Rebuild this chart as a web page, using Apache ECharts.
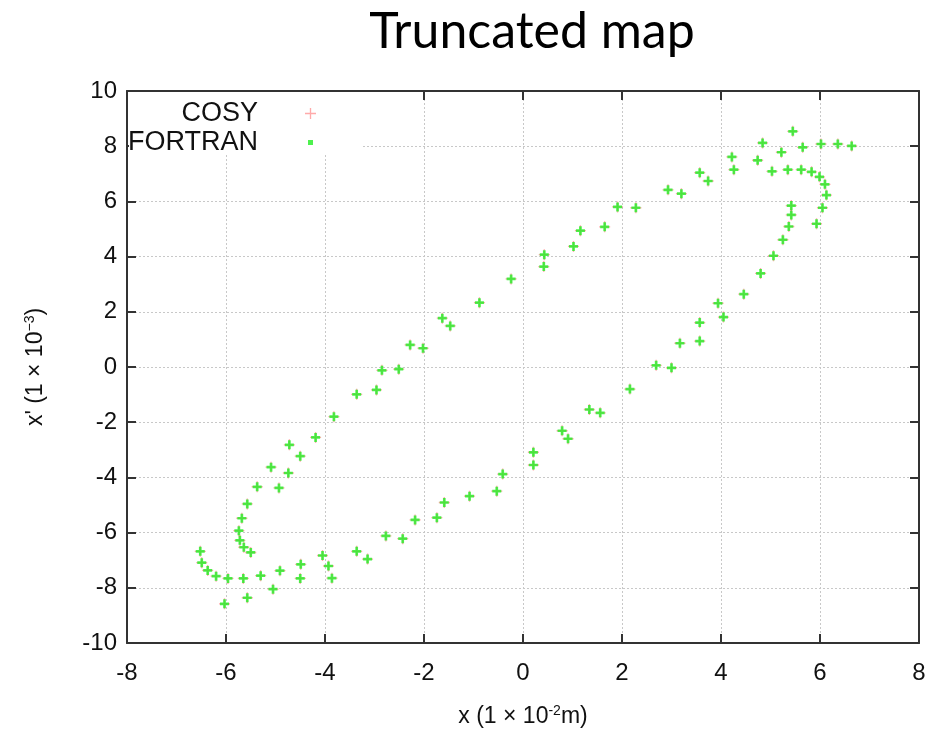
<!DOCTYPE html>
<html>
<head>
<meta charset="utf-8">
<script src="https://cdn.jsdelivr.net/npm/echarts@6/dist/echarts.min.js"></script>
<style>html,body{margin:0;padding:0;background:#fff;}#c{width:930px;height:734px;}</style>
</head>
<body>
<div id="c"></div>
<script>
// Phase-space points (x in 1e-2 m, x' in 1e-3); COSY and FORTRAN coincide
var pointX = [-2.85,-2.51,-2.28,-2.02,-1.63,-1.47,-0.88,-0.24,0.43,0.42,1.02,1.16,1.65,1.91,2.28,2.93,3.20,3.57,3.74,4.22,4.26,4.74,4.84,5.03,5.22,5.35,5.45,5.62,5.65,5.83,5.99,6.02,6.10,6.13,6.05,5.42,5.42,5.37,5.93,6.36,6.64,5.25,5.06,4.80,4.46,3.94,4.05,3.57,3.57,3.17,2.69,3.00,-3.36,-2.96,-3.82,-4.19,-4.72,-4.50,-5.09,-4.74,-5.37,-4.93,-5.57,-5.68,-5.74,-5.72,-5.64,-5.50,-6.52,-6.49,-6.37,-6.20,-5.96,-5.65,-5.30,-4.91,-4.49,-4.50,-5.05,-5.57,-6.03,-4.05,-3.93,-3.86,-3.36,-3.14,-2.77,-2.43,-2.18,-1.74,-1.59,-1.08,-0.53,-0.41,0.21,0.21,0.79,0.91,1.34,1.56,2.16];
var pointY = [-0.12,-0.08,0.80,0.68,1.77,1.49,2.33,3.19,4.07,3.64,4.37,4.94,5.08,5.80,5.77,6.42,6.28,7.04,6.74,7.61,7.15,7.49,8.12,7.09,7.78,7.15,8.54,7.15,7.96,7.07,6.89,8.08,6.62,6.23,5.77,5.85,5.51,5.09,5.19,8.08,8.01,4.61,4.03,3.39,2.64,2.31,1.81,1.61,0.94,0.86,0.06,-0.03,-0.99,-0.83,-1.80,-2.55,-2.82,-3.23,-3.63,-3.84,-4.34,-4.38,-4.96,-5.48,-5.93,-6.28,-6.53,-6.72,-6.68,-7.09,-7.37,-7.58,-7.66,-7.66,-7.56,-7.38,-7.15,-7.66,-8.05,-8.36,-8.58,-6.83,-7.21,-7.65,-6.68,-6.96,-6.12,-6.22,-5.54,-5.46,-4.91,-4.68,-4.50,-3.88,-3.09,-3.55,-2.31,-2.60,-1.54,-1.66,-0.80];
var seriesNames = ['COSY', 'FORTRAN'];
var xTicks = {min: -8, max: 8, interval: 2};
var yTicks = {min: -10, max: 10, interval: 2};

var pts = pointX.map(function (x, i) { return [x, pointY[i]]; });
var plusThick = 'path://M3.5,0h3v3.5h3.5v3h-3.5v3.5h-3v-3.5h-3.5v-3h3.5z';
var plusThin = 'path://M4.4,0h1.2v4.4h4.4v1.2h-4.4v4.4h-1.2v-4.4h-4.4v-1.2h4.4z';
var tickFont = {color: '#111', fontSize: 24, fontFamily: 'Liberation Sans'};
var gridLine = {show: true, lineStyle: {color: '#c8c8c8', width: 1, type: [2, 2]}};
var axLine = {show: true, onZero: false, lineStyle: {color: '#333', width: 2}};
var axTick = {show: true, inside: true, length: 9, lineStyle: {color: '#333', width: 2}};
var supStyle = {fontSize: 14, verticalAlign: 'top', padding: [0, 0, 12, 0], fontFamily: 'Liberation Sans', color: '#111'};

var chart = echarts.init(document.getElementById('c'), null, {renderer: 'canvas'});
chart.setOption({
  animation: false,
  backgroundColor: '#fff',
  title: {
    text: 'Truncated map', left: 527, top: 2, textAlign: 'center',
    textStyle: {fontFamily: 'Lato', fontWeight: 'normal', fontSize: 50, color: '#000'}
  },
  grid: {left: 127, right: 11, top: 91, bottom: 91, outerBoundsMode: 'none'},
  legend: [{
    data: [{name: seriesNames[0], icon: plusThin}],
    orient: 'vertical', align: 'right', right: 930 - 321, top: 95,
    itemWidth: 11, itemHeight: 11,
    textStyle: {fontSize: 27, fontFamily: 'Liberation Sans', color: '#111', padding: [0, 42, 0, 0]}
  }, {
    data: [{name: seriesNames[1], icon: 'rect'}],
    orient: 'vertical', align: 'right', right: 930 - 318, top: 124,
    itemWidth: 5, itemHeight: 5,
    textStyle: {fontSize: 27, fontFamily: 'Liberation Sans', color: '#111', padding: [0, 45, 0, 0]}
  }],
  xAxis: [{
    type: 'value', position: 'bottom', min: xTicks.min, max: xTicks.max, interval: xTicks.interval,
    axisLine: axLine, axisTick: axTick, splitLine: gridLine,
    axisLabel: Object.assign({margin: 18}, tickFont),
    name: 'x (1 × 10{sup|-2}m)', nameLocation: 'middle', nameGap: 61,
    nameTextStyle: {color: '#111', fontSize: 23, fontFamily: 'Liberation Sans', rich: {sup: supStyle}}
  }, {
    type: 'value', position: 'top', min: xTicks.min, max: xTicks.max, interval: xTicks.interval,
    axisLine: axLine, axisTick: axTick, splitLine: {show: false}, axisLabel: {show: false}
  }],
  yAxis: [{
    type: 'value', position: 'left', min: yTicks.min, max: yTicks.max, interval: yTicks.interval,
    axisLine: axLine, axisTick: axTick, splitLine: gridLine,
    axisLabel: Object.assign({margin: 10}, tickFont),
    name: "x' (1 × 10{sup|−3})", nameLocation: 'middle', nameGap: 78,
    nameTextStyle: {color: '#111', fontSize: 23, fontFamily: 'Liberation Sans', rich: {sup: supStyle}}
  }, {
    type: 'value', position: 'right', min: yTicks.min, max: yTicks.max, interval: yTicks.interval,
    axisLine: axLine, axisTick: axTick, splitLine: {show: false}, axisLabel: {show: false}
  }],
  graphic: [{
    type: 'rect', left: 129, top: 92, z: 1, silent: true,
    shape: {width: 234, height: 62}, style: {fill: '#fff'}
  }],
  series: [{
    name: seriesNames[0], type: 'scatter', data: pts, symbol: plusThin, symbolSize: 11,
    itemStyle: {color: '#ff5555', opacity: 0.5}, z: 3
  }, {
    name: seriesNames[1], type: 'scatter', data: pts, symbol: plusThick, symbolSize: 9,
    itemStyle: {color: '#22ee22'}, z: 4
  }]
});
</script>
</body>
</html>
